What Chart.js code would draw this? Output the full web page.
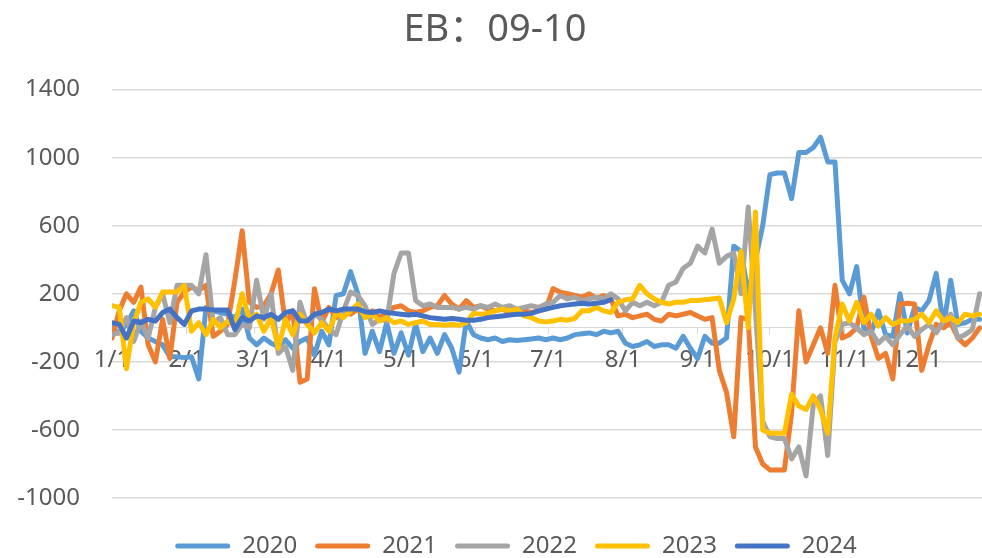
<!DOCTYPE html>
<html><head><meta charset="utf-8">
<script src="https://cdn.jsdelivr.net/npm/chart.js@4.4.1/dist/chart.umd.min.js"></script>
<style>html,body{margin:0;padding:0;overflow:hidden;background:#fff;}canvas{display:block;}</style>
</head><body>
<canvas id="c" width="982" height="568"></canvas>
<script>
const chartTitle = 'EB：09-10';
const seriesNames = ['2020', '2021', '2022', '2023', '2024'];
const seriesColors = ['#5B9BD5', '#ED7D31', '#A5A5A5', '#FFC000', '#4472C4'];
const monthDays = [0, 31, 59, 90, 120, 151, 181, 212, 243, 273, 304, 334];
const monthLabels = ['1/1', '2/1', '3/1', '4/1', '5/1', '6/1', '7/1', '8/1', '9/1', '10/1', '11/1', '12/1'];
const yTicks = [-1000, -600, -200, 200, 600, 1000, 1400];
// day of year of each sample
const days = [0,3,6,9,12,15,18,21,24,27,30,33,36,39,42,45,48,51,54,57,60,63,66,69,72,75,78,81,84,87,
  90,93,96,99,102,105,108,111,114,117,120,123,126,129,132,135,138,141,144,147,150,153,156,159,162,165,168,171,174,177,
  180,183,186,189,192,195,198,201,204,207,210,213,216,219,222,225,228,231,234,237,240,243,246,249,252,255,258,261,264,267,
  270,273,276,279,282,285,288,291,294,297,300,303,306,309,312,315,318,321,324,327,330,333,336,339,342,345,348,351,354,357,360];

const v2020 = [0,-30,20,100,-20,-60,-80,-100,-170,-170,-175,-170,-300,120,100,90,80,60,110,-60,
  -100,-60,-90,-110,-70,-120,-80,-60,-160,-20,-100,190,200,330,200,-150,-20,-140,30,-150,
  -30,-160,20,-140,-60,-150,-40,-120,-260,40,-40,-60,-70,-60,-80,-70,-75,-70,-65,-60,
  -70,-60,-70,-60,-40,-35,-30,-40,-20,-30,-20,-90,-110,-100,-80,-110,-100,-100,-120,-50,
  -120,-180,-50,-90,-90,-60,480,450,200,400,600,900,910,910,760,1030,1030,1060,1120,975,
  975,280,200,360,0,-30,100,-40,-50,200,-30,120,100,160,320,10,280,20,30,50,50];
const v2021 = [-60,100,200,150,240,-100,-200,50,-180,150,210,240,220,250,-50,-20,20,280,570,150,
  120,130,200,340,20,100,-320,-300,230,30,120,60,100,80,110,70,100,60,90,120,
  130,100,90,100,120,130,190,140,110,160,120,130,110,100,110,90,110,100,90,100,
  110,230,210,200,190,180,200,175,190,170,70,80,60,70,80,50,40,80,70,80,
  90,70,50,60,-250,-380,-640,60,50,-700,-800,-835,-835,-835,-500,100,-200,-100,0,-150,
  250,-60,-40,0,180,-50,-180,-150,-300,140,145,140,-250,-100,20,0,30,-60,-100,-60,0];
const v2022 = [-40,-30,60,-80,40,-60,120,200,30,250,250,250,200,430,30,60,-40,-40,20,0,
  280,50,200,-150,-110,-250,150,20,80,50,-10,-40,100,210,190,130,20,50,40,320,
  440,440,160,130,140,120,120,120,110,120,110,130,120,140,120,130,110,120,130,120,
  140,150,190,170,180,160,170,180,170,200,170,100,150,130,150,130,150,250,270,350,
  380,480,440,580,380,420,440,200,710,100,-550,-640,-650,-650,-770,-700,-870,-450,-400,-750,
  -80,20,30,0,-40,-20,-90,-50,-100,-40,10,-50,-10,20,-30,40,80,-60,-40,-10,200];
const v2023 = [130,120,-240,30,150,170,120,210,210,210,250,-20,30,-40,50,0,40,10,200,50,
  80,-20,60,-120,50,-40,80,20,-30,30,-20,90,60,100,140,60,80,40,60,30,
  40,20,30,40,20,20,15,20,15,30,85,80,85,100,110,100,110,70,60,40,
  35,40,50,45,55,100,100,120,100,90,150,165,170,250,200,170,150,140,150,150,
  160,160,165,170,175,30,170,450,0,680,-600,-620,-620,-620,-390,-460,-480,-400,-480,-620,
  -60,140,40,150,30,80,10,60,20,40,40,50,80,30,100,40,60,30,80,70,80];
const v2024 = [30,20,-60,40,30,50,40,90,110,60,20,100,110,110,105,105,105,-10,60,40,
  70,60,80,50,90,100,40,40,80,90,110,100,110,110,110,95,90,100,90,85,
  80,75,80,70,60,55,50,55,50,45,45,50,60,65,70,75,80,80,85,100,
  110,120,130,135,140,145,140,145,150,165];
const seriesValues = [v2020, v2021, v2022, v2023, v2024];

const textColor = '#595959';
const gridColor = '#d9d9d9';
const latinFont = "'Noto Sans', 'Noto Sans CJK SC', sans-serif";

const legendShift = {
  id: 'legendShift',
  afterLayout(chart) {
    const lg = chart.legend;
    if (lg) { lg.left += 21; lg.right += 21; }
  }
};

new Chart(document.getElementById('c'), {
  type: 'line',
  data: {
    datasets: seriesNames.map((name, k) => ({
      label: name,
      data: seriesValues[k].map((val, i) => ({ x: days[i], y: val })),
      borderColor: seriesColors[k],
      backgroundColor: seriesColors[k],
      borderWidth: 5,
      pointRadius: 0,
      tension: 0,
      fill: false,
      borderJoinStyle: 'round',
      borderCapStyle: 'round',
      order: seriesNames.length - 1 - k
    }))
  },
  options: {
    responsive: false,
    animation: false,
    devicePixelRatio: 1,
    layout: { padding: { left: 8, right: 0, top: 0, bottom: 0 } },
    plugins: {
      tooltip: { enabled: false },
      title: {
        display: true,
        text: chartTitle,
        color: textColor,
        font: { family: latinFont, size: 38, weight: 'normal', lineHeight: 1.2 },
        padding: { top: 7, bottom: 37 }
      },
      legend: {
        position: 'bottom',
        title: { display: true, text: '', font: { size: 10, lineHeight: 1.2 }, padding: 3 },
        labels: {
          boxWidth: 55,
          boxHeight: 5,
          padding: 18,
          color: textColor,
          font: { family: latinFont, size: 24 },
          useBorderRadius: true,
          borderRadius: 2.5,
          generateLabels: (chart) => chart.data.datasets.map((ds, i) => ({
            text: ds.label,
            fillStyle: ds.borderColor,
            strokeStyle: ds.borderColor,
            lineWidth: 0,
            hidden: false,
            datasetIndex: i,
            borderRadius: 2.5,
            fontColor: textColor
          }))
        }
      }
    },
    scales: {
      x: {
        type: 'linear',
        min: 0,
        max: 361,
        position: { y: 0 },
        afterBuildTicks: (scale) => { scale.ticks = monthDays.map(v => ({ value: v })); },
        ticks: {
          autoSkip: false,
          maxRotation: 0,
          color: textColor,
          font: { family: latinFont, size: 24 },
          padding: 12,
          callback: (value) => monthLabels[monthDays.indexOf(value)]
        },
        grid: { drawOnChartArea: false, drawTicks: true, tickLength: 6, color: gridColor },
        border: { display: true, color: gridColor, width: 1 }
      },
      y: {
        min: -1000,
        max: 1400,
        afterBuildTicks: (scale) => { scale.ticks = yTicks.map(v => ({ value: v })); },
        ticks: {
          color: textColor,
          font: { family: latinFont, size: 24 },
          padding: 32,
          callback: (value) => String(value)
        },
        grid: { color: gridColor, drawTicks: false, lineWidth: 1.5 },
        border: { display: false },
        afterFit: (scale) => { scale.width = 104; }
      }
    }
  },
  plugins: [legendShift]
});
</script>
</body></html>
